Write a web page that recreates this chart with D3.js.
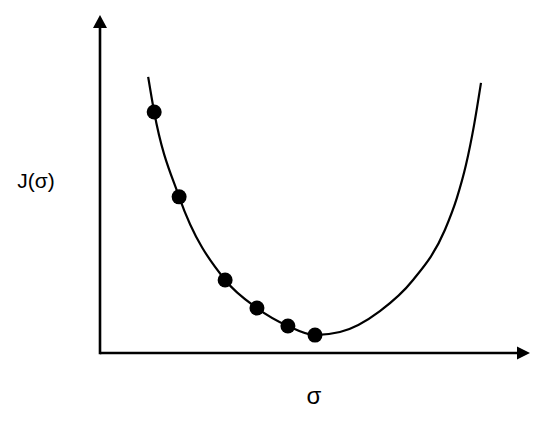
<!DOCTYPE html>
<html>
<head>
<meta charset="utf-8">
<script src="https://cdn.jsdelivr.net/npm/d3@7"></script>
<style>
  body { margin: 0; background: #fff; }
  svg { display: block; font-family: "Liberation Sans", Arial, sans-serif; }
</style>
</head>
<body>
<div id="chart"></div>
<script>
(function () {

var width = 550;
var height = 421;

// curve J(sigma) (sigma, J)
var curveSigma = [1.12, 1.26, 1.84, 2.91, 3.65, 4.37, 5.00, 5.58, 6.51, 7.28, 8.02, 8.30, 8.51, 8.70, 8.86];
var curveJ     = [8.17, 7.13, 4.62, 2.16, 1.33, 0.80, 0.53, 0.62, 1.24, 2.16, 3.64, 4.59, 5.56, 6.75, 7.99];

// sampled points
var pointSigma = [1.26, 1.84, 2.91, 3.65, 4.37, 5.00];
var pointJ     = [7.13, 4.62, 2.16, 1.33, 0.80, 0.53];

var xLabel = "σ";
var yLabel = "J(σ)";

var svg = d3.select("#chart")
  .append("svg")
  .attr("width", width)
  .attr("height", height);

// axis origin at (0,0), arrows at the end of the range
var x = d3.scaleLinear().domain([0, 10]).range([100, 530]);
var y = d3.scaleLinear().domain([0, 10]).range([353, 15]);

var curveData = curveSigma.map(function (s, i) { return { s: s, j: curveJ[i] }; });
var pointData = pointSigma.map(function (s, i) { return { s: s, j: pointJ[i] }; });

// axes
svg.append("line")
  .attr("x1", x(0)).attr("y1", y(0))
  .attr("x2", x(10) - 12).attr("y2", y(0))
  .style("stroke", "#000")
  .style("stroke-width", "2.6px");

svg.append("line")
  .attr("x1", x(0)).attr("y1", y(0) + 1.3)
  .attr("x2", x(0)).attr("y2", y(10) + 12)
  .style("stroke", "#000")
  .style("stroke-width", "2.6px");

// arrow heads
svg.append("path")
  .attr("d", "M" + x(10) + "," + y(0) + "L" + (x(10) - 13) + "," + (y(0) - 6.5) + "L" + (x(10) - 13) + "," + (y(0) + 6.5) + "Z")
  .style("fill", "#000");

svg.append("path")
  .attr("d", "M" + x(0) + "," + y(10) + "L" + (x(0) - 7) + "," + (y(10) + 13) + "L" + (x(0) + 7) + "," + (y(10) + 13) + "Z")
  .style("fill", "#000");

// the curve
var line = d3.line()
  .x(function (d) { return x(d.s); })
  .y(function (d) { return y(d.j); })
  .curve(d3.curveMonotoneX);

svg.append("path")
  .datum(curveData)
  .attr("d", line)
  .style("fill", "none")
  .style("stroke", "#000")
  .style("stroke-width", "2.2px");

// dots
svg.selectAll("circle.pt")
  .data(pointData)
  .enter()
  .append("circle")
  .attr("class", "pt")
  .attr("cx", function (d) { return x(d.s); })
  .attr("cy", function (d) { return y(d.j); })
  .attr("r", 7.5)
  .style("fill", "#000");

// labels
svg.append("text")
  .attr("x", 36)
  .attr("y", 188)
  .attr("text-anchor", "middle")
  .style("font-size", "21px")
  .text(yLabel);

svg.append("text")
  .attr("x", 314)
  .attr("y", 404)
  .attr("text-anchor", "middle")
  .style("font-size", "24px")
  .text(xLabel);

})();
</script>
</body>
</html>
